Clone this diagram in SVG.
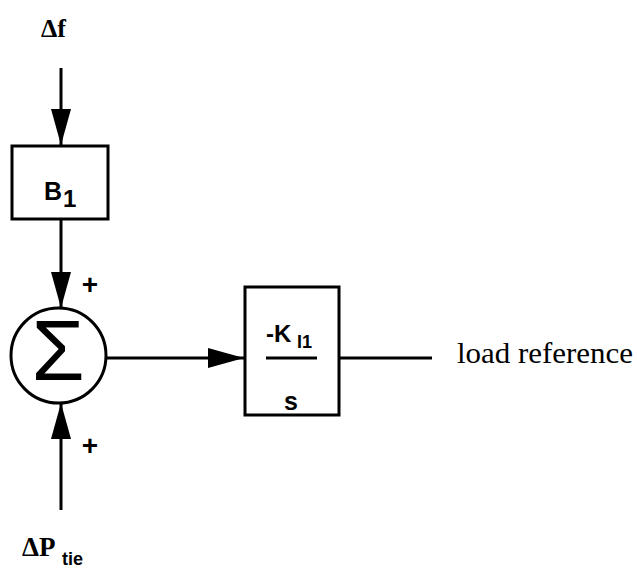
<svg xmlns="http://www.w3.org/2000/svg" width="637" height="570" viewBox="0 0 637 570">
<style>
.ln{stroke:#000;stroke-width:3;fill:none}
.bx{stroke:#000;stroke-width:3;fill:#fff}
.sf{font-family:"Liberation Serif",serif;font-weight:bold;fill:#000}
.ss{font-family:"Liberation Sans",Arial,sans-serif;font-weight:bold;fill:#000}
.tr{font-family:"Liberation Serif",serif;fill:#000}
</style>
<defs>
<marker id="ah" markerUnits="userSpaceOnUse" markerWidth="36" markerHeight="22" refX="36" refY="11" orient="auto">
<path d="M0,1 L36,11 L0,21 Z" fill="#000"/>
</marker>
</defs>
<g id="connectors">
<line class="ln" x1="61" y1="68" x2="61" y2="145" marker-end="url(#ah)"/>
<line class="ln" x1="61" y1="219" x2="61" y2="308" marker-end="url(#ah)"/>
<line class="ln" x1="61" y1="510" x2="61" y2="403" marker-end="url(#ah)"/>
<line class="ln" x1="107" y1="358" x2="244" y2="358" marker-end="url(#ah)"/>
<line class="ln" x1="339" y1="358" x2="432" y2="358"/>
</g>
<g id="input-df">
<text class="sf" x="41" y="37" font-size="26">Δf</text>
</g>
<g id="block-b1">
<rect class="bx" x="12" y="146" width="96" height="73"/>
<text class="ss" x="44" y="200" font-size="25">B</text>
<text class="ss" x="63" y="207" font-size="24">1</text>
</g>
<g id="sum">
<circle class="bx" cx="58.5" cy="355.5" r="47.5"/>
<text x="58" y="380" font-size="86" text-anchor="middle" font-family="Liberation Sans,Arial,sans-serif" fill="#000">Σ</text>
<text class="ss" x="90" y="294" font-size="28" text-anchor="middle">+</text>
<text class="ss" x="90" y="455" font-size="28" text-anchor="middle">+</text>
</g>
<g id="input-dptie">
<text class="sf" x="22" y="556" font-size="27">ΔP</text>
<text class="ss" x="62" y="565" font-size="18">tie</text>
</g>
<g id="block-integrator">
<rect class="bx" x="245" y="287" width="94" height="128"/>
<text class="ss" x="266" y="342" font-size="24">-K</text>
<text class="ss" x="297" y="348" font-size="18">I1</text>
<line class="ln" x1="266" y1="358" x2="317" y2="358"/>
<text class="ss" x="291" y="410" font-size="25" text-anchor="middle">s</text>
</g>
<g id="output">
<text class="tr" x="457" y="363" font-size="30" textLength="176" lengthAdjust="spacingAndGlyphs">load reference</text>
</g>
</svg>
